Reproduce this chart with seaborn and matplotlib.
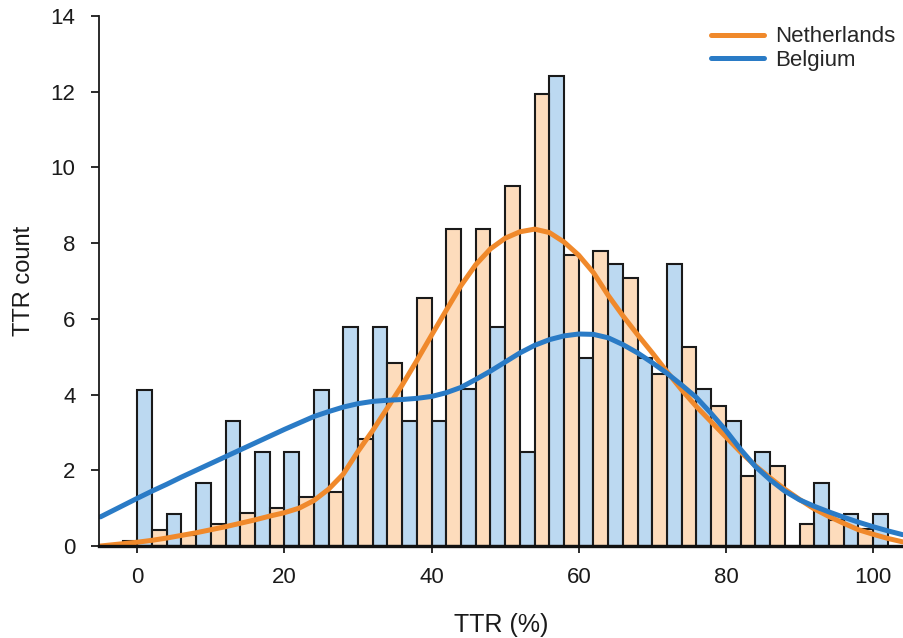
import pandas as pd
import matplotlib
matplotlib.use("Agg")
import matplotlib.pyplot as plt
import seaborn as sns

# Histogram data (share of patients per 4% TTR bin)
bin_centers = list(range(0, 101, 4))
netherlands_counts = [0.13, 0.43, 0.28, 0.58, 0.86, 1.01, 1.29, 1.43, 2.83, 4.83,
                      6.54, 8.37, 8.37, 9.51, 11.94, 7.68, 7.80, 7.09, 4.54, 5.25,
                      3.70, 1.86, 2.12, 0.57, 0.70, 0.44]
belgium_counts = [4.12, 0.84, 1.66, 3.31, 2.48, 2.48, 4.12, 5.79, 5.79, 3.31,
                  3.31, 4.14, 5.79, 2.48, 12.41, 4.97, 7.45, 4.97, 7.45, 4.14,
                  3.31, 2.48, 0.0, 1.66, 0.84, 0.84]

# Density curves
curve_x = [-5] + list(range(0, 105, 2))
netherlands_curve = [0.0, 0.10, 0.15, 0.21, 0.28, 0.35, 0.43, 0.51, 0.60, 0.69, 0.79,
                     0.88, 1.0, 1.2, 1.5, 1.9, 2.5, 3.05, 3.65, 4.25, 4.9,
                     5.57, 6.23, 6.88, 7.43, 7.85, 8.13, 8.3, 8.37, 8.28, 8.03,
                     7.68, 7.22, 6.62, 6.08, 5.58, 5.1, 4.6, 4.12, 3.68, 3.28,
                     2.88, 2.48, 2.12, 1.8, 1.5, 1.23, 0.98, 0.78, 0.6, 0.43,
                     0.31, 0.2, 0.11]
belgium_curve = [0.77, 1.26, 1.45, 1.63, 1.82, 2.0, 2.18, 2.36, 2.54, 2.72, 2.9,
                 3.08, 3.25, 3.42, 3.55, 3.67, 3.76, 3.82, 3.85, 3.87, 3.9,
                 3.95, 4.05, 4.19, 4.4, 4.62, 4.86, 5.1, 5.3, 5.45, 5.55,
                 5.6, 5.59, 5.5, 5.32, 5.1, 4.84, 4.56, 4.25, 3.92, 3.5,
                 3.05, 2.55, 2.1, 1.75, 1.45, 1.22, 1.05, 0.9, 0.76, 0.63,
                 0.51, 0.4, 0.3]

countries = ['Netherlands', 'Belgium']
bar_colors = {'Netherlands': '#fddcbc', 'Belgium': '#bcd9f1'}
line_colors = {'Netherlands': '#f0892b', 'Belgium': '#2a7bc6'}

bars = pd.DataFrame({
    'ttr': bin_centers * 2,
    'count': netherlands_counts + belgium_counts,
    'country': ['Netherlands'] * len(bin_centers) + ['Belgium'] * len(bin_centers),
})
curves = pd.DataFrame({
    'ttr': curve_x * 2,
    'value': netherlands_curve + belgium_curve,
    'country': ['Netherlands'] * len(curve_x) + ['Belgium'] * len(curve_x),
})

sns.set_style('ticks')
plt.rcParams['font.family'] = ['Liberation Sans', 'DejaVu Sans']

fig = plt.figure(figsize=(9.04, 6.38), dpi=100)
ax = fig.add_axes([99 / 904, 92 / 638, 805 / 904, 530 / 638])

# one bin per pair: Netherlands on the left half, Belgium on the right half
sns.histplot(data=bars, x='ttr', weights='count', hue='country', hue_order=countries,
             binwidth=4, binrange=(-2, 102), multiple='dodge', shrink=1,
             palette=bar_colors, alpha=1, edgecolor='#1a1a1a', linewidth=1.5,
             legend=False, ax=ax)
sns.lineplot(data=curves, x='ttr', y='value', hue='country', hue_order=countries,
             palette=line_colors, linewidth=3.6, ax=ax)

ax.set_xlim(-5.2, 104.2)
ax.set_ylim(0, 14)
ax.set_xticks([0, 20, 40, 60, 80, 100])
ax.set_yticks(range(0, 15, 2))
ax.set_xlabel('TTR (%)', fontsize=18, labelpad=18, color='#1a1a1a')
ax.set_ylabel('TTR count', fontsize=17, labelpad=11, color='#1a1a1a')
ax.tick_params(axis='x', labelsize=16, length=5, width=1.3, pad=10, colors='#1a1a1a')
ax.tick_params(axis='y', labelsize=16, length=6, width=1.3, pad=11, colors='#1a1a1a')

sns.despine(ax=ax)
ax.spines['left'].set_bounds(0, 14)
ax.spines['left'].set_linewidth(1.3)
ax.spines['left'].set_color('#1a1a1a')
ax.spines['bottom'].set_linewidth(2.4)
ax.spines['bottom'].set_color('#111111')

leg = ax.legend(loc='upper right', bbox_to_anchor=(1.014, 1.018), frameon=False,
                fontsize=16, handlelength=2.4, handletextpad=0.5, labelspacing=0.1)
for line in leg.get_lines():
    line.set_linewidth(3.6)

fig.savefig('out.png', dpi=100)
